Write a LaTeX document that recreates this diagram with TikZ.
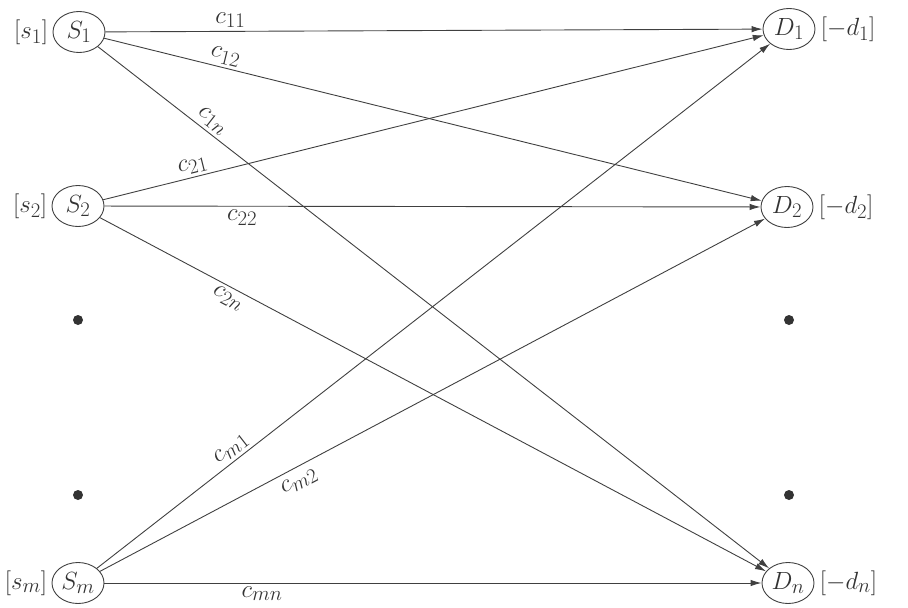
\documentclass[tikz,border=0pt]{standalone}
\usetikzlibrary{positioning,shapes.geometric,arrows.meta}

\begin{document}
\begin{tikzpicture}[x=1pt,y=-1pt,
        font=\fontsize{24.88}{28}\selectfont,
        every node/.style={text=black!80},
        place/.style={ellipse,draw=black!75,line width=0.9pt,minimum width=52pt,minimum height=41pt,inner sep=0pt},
        route/.style={draw=black!75,line width=0.9pt,-{Latex[length=11pt,width=6.5pt]}},
        cost/.style={sloped,inner sep=3pt}]
        \useasboundingbox (0,0) rectangle (908,608);
        % origins
        \node[place] (S1) at (79,32) {$S_1$};
        \node[place] (S2) at (78,206) {$S_2$};
        \node[place] (Sm) at (78,583) {$S_m$};
        \node[left=1pt of S1] (s1) {$[s_1]$};
        \node[left=1pt of S2] (s2) {$[s_2]$};
        \node[left=1pt of Sm] (sm) {$[s_m]$};
        % destinations
        \node[place] (D1) at (789,29) {$D_1$};
        \node[place] (D2) at (787,207) {$D_2$};
        \node[place] (Dn) at (788,583) {$D_n$};
        \node[right=2pt of D1] (d1) {$[-d_1]$};
        \node[right=2pt of D2] (d2) {$[-d_2]$};
        \node[right=2pt of Dn] (dn) {$[-d_n]$};
        % dots
        \foreach \yy in {320,495} {
            \fill[black!80] (78,\yy) circle (5pt);
            \fill[black!80] (789,\yy) circle (5pt);
        }
        % routes
        \draw[route] (S1) -- node[cost,above,pos=0.19] {$c_{11}$} (D1);
        \draw[route] (S1) -- node[cost,above,pos=0.18] {$c_{12}$} (D2);
        \draw[route] (S1) -- node[cost,above,pos=0.16] {$c_{1n}$} (Dn);
        \draw[route] (S2) -- node[cost,above,pos=0.14] {$c_{21}$} (D1);
        \draw[route] (S2) -- node[cost,below,pos=0.21] {$c_{22}$} (D2);
        \draw[route] (S2) -- node[cost,below,pos=0.2] {$c_{2n}$} (Dn);
        \draw[route] (Sm) -- node[cost,above,pos=0.21] {$c_{m1}$} (D1);
        \draw[route] (Sm) -- node[cost,below,pos=0.29,inner sep=6pt] {$c_{m2}$} (D2);
        \draw[route] (Sm) -- node[cost,below,pos=0.24] {$c_{mn}$} (Dn);
\end{tikzpicture}
\end{document}
